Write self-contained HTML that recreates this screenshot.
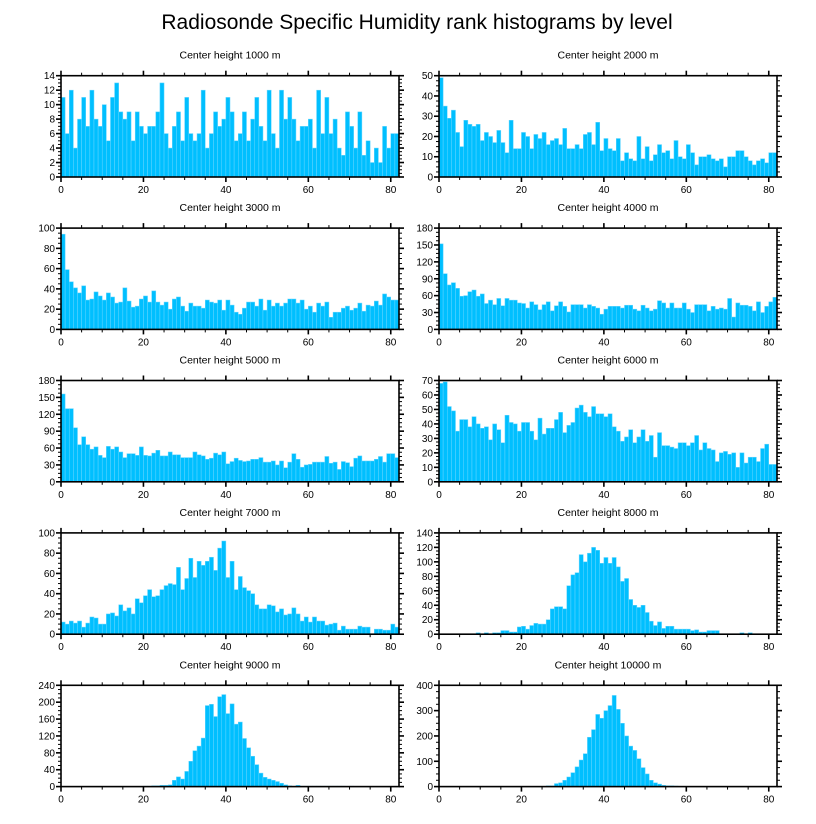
<!DOCTYPE html>
<html><head><meta charset="utf-8"><style>
html,body{margin:0;padding:0;background:#fff;}
svg{display:block;font-family:"Liberation Sans",sans-serif;}
</style></head><body>
<svg id="chart" width="816" height="824" viewBox="0 0 816 824">
<text x="417" y="29" text-anchor="middle" font-size="21">Radiosonde Specific Humidity rank histograms by level</text>
</svg>
<script>
const titles = ["Center height 1000 m","Center height 2000 m","Center height 3000 m","Center height 4000 m","Center height 5000 m","Center height 6000 m","Center height 7000 m","Center height 8000 m","Center height 9000 m","Center height 10000 m"];
const yMax = [14,50,100,180,180,70,100,140,240,400];
const yStep = [2,10,20,30,30,10,20,20,40,100];
const xTicks = [0,20,40,60,80];
const h1000 = [11,6,12,4,8,11,7,12,8,7,10,5,11,13,9,8,9,5,9,7,6,7,7,9,13,6,4,7,9,5,11,6,5,6,12,4,6,9,7,8,11,9,5,6,9,5,8,11,7,5,12,6,4,12,8,11,8,5,7,7,8,4,12,6,11,6,8,4,3,9,7,4,9,3,5,2,4,2,7,4,6,6];
const h2000 = [49,35,29,33,22,15,28,26,25,26,18,22,20,17,23,17,12,28,14,14,22,20,14,21,19,22,16,18,19,16,24,14,14,16,14,21,22,16,27,13,19,14,13,19,8,12,9,8,20,9,15,8,11,16,12,13,9,18,10,9,16,12,6,10,10,11,9,8,9,5,10,10,13,13,10,8,6,8,9,7,12,12];
const h3000 = [94,59,47,41,36,43,29,30,37,33,29,36,32,26,27,41,28,22,23,30,33,27,38,27,24,27,20,30,32,23,18,26,23,23,21,29,27,26,29,19,29,24,17,15,21,27,27,23,30,19,29,23,26,23,26,30,30,26,29,20,23,17,26,23,27,12,17,17,21,23,19,21,26,18,24,23,28,24,35,32,29,29];
const h4000 = [152,99,79,83,73,59,60,67,70,59,63,46,52,44,55,42,55,52,52,47,46,38,49,44,35,44,49,33,42,49,41,31,44,44,44,38,44,41,38,27,36,41,41,41,38,43,43,36,33,43,38,33,36,51,47,38,47,38,38,47,36,30,44,44,44,33,41,36,38,36,55,22,47,43,43,41,33,49,30,41,49,57];
const h5000 = [156,130,130,96,66,80,66,58,62,47,43,63,58,62,53,43,50,50,47,62,47,46,51,56,46,46,53,48,48,43,43,43,53,48,46,40,42,51,48,53,32,36,42,38,36,37,40,40,43,35,35,37,30,37,25,35,50,40,26,30,31,35,35,35,45,33,35,22,36,34,27,42,46,37,37,37,40,45,35,50,50,43];
const h6000 = [68,69,52,49,35,43,43,38,45,40,37,38,29,40,36,27,46,41,40,35,41,41,35,29,44,33,37,37,43,48,34,39,41,51,53,48,45,52,47,47,45,47,38,35,28,31,36,27,31,36,28,32,17,34,25,25,24,23,27,27,25,27,32,22,27,23,22,14,20,21,19,20,10,20,13,17,17,14,23,26,12,12];
const h7000 = [12,10,13,11,13,7,11,17,16,10,10,20,21,18,29,23,26,20,35,31,38,44,37,38,44,48,50,49,66,44,55,75,56,72,68,72,76,63,85,92,56,72,44,57,46,43,40,29,25,25,29,28,22,25,19,20,26,20,13,17,12,17,13,13,9,10,11,4,8,5,5,5,8,7,7,0,5,5,4,4,10,7];
const h8000 = [0,0,0,0,0,0,0,0,0,2,0,2,0,2,2,5,5,3,3,10,11,7,12,15,14,14,20,35,38,38,35,67,82,85,110,100,112,120,116,98,106,98,106,93,73,77,48,40,37,40,30,18,12,17,8,11,11,7,7,7,7,5,6,3,3,5,5,5,0,0,0,0,0,2,0,2,0,0,0,0,0,0];
const h9000 = [0,0,0,0,0,0,0,0,0,0,0,0,0,0,0,0,0,0,0,0,1,1,2,2,3,3,4,15,23,18,36,60,85,96,115,192,195,166,213,218,173,196,148,153,114,92,72,52,32,22,18,15,12,8,4,2,1,3,1,1,1,1,1,1,1,1,1,1,1,0,1,0,0,0,0,0,0,0,0,0,0,0];
const h10000 = [0,0,0,0,0,0,0,0,0,0,0,0,0,0,0,0,0,0,0,0,0,0,0,0,0,0,3,3,12,15,25,38,55,78,105,130,195,225,285,270,300,320,360,305,250,200,160,143,110,75,50,25,15,10,5,3,3,2,1,1,0,0,0,0,0,0,0,0,0,0,1,0,0,0,0,0,0,0,1,0,0,0];
const series = [h1000,h2000,h3000,h4000,h5000,h6000,h7000,h8000,h9000,h10000];

const NS = "http://www.w3.org/2000/svg";
const svg = document.getElementById("chart");
function mk(tag, attrs, parent){const e=document.createElementNS(NS,tag);for(const k in attrs)e.setAttribute(k,attrs[k]);(parent||svg).appendChild(e);return e;}
const W = 338, H = 101.3, XMAX = 82;
series.forEach((vals, p) => {
  const col = p % 2, row = Math.floor(p / 2);
  const L = col === 0 ? 61 : 439, T = 75.7 + row * 152.4;
  const g = mk("g", {});
  
  
  const xs = v => L + v / XMAX * W;
  const ys = v => T + H - v / yMax[p] * H;
  const t = mk("text", {x: L + W/2, y: T - 17, "text-anchor": "middle", "font-size": "10.5"}, g);
  t.textContent = titles[p];
  
  
  vals.forEach((v, i) => {
    if (i >= XMAX || v <= 0) return;
    const r = mk("rect", {x: xs(i), y: ys(v), width: xs(i+1) - xs(i), height: ys(0) - ys(v), fill: "#00bfff", stroke: "#66d6ff", "stroke-width": "0.5"}, g);
    
    
  });
  const fr = mk("rect", {x: L, y: T, width: W, height: H, fill: "none", stroke: "#000", "stroke-width": "1.6"}, g);
  
  
  // x ticks
  for (let v = 0; v <= XMAX; v += 5) {
    const major = v % 20 === 0, len = major ? 5 : 3, x = xs(v);
    mk("line", {x1: x, x2: x, y1: T + H, y2: T + H + len, stroke: "#000", "stroke-width": major ? 1.6 : 1}, g);
    mk("line", {x1: x, x2: x, y1: T, y2: T - len, stroke: "#000", "stroke-width": major ? 1.6 : 1}, g);
  }
  xTicks.forEach(v => {
    const lb = mk("text", {x: xs(v), y: T + H + 16, "text-anchor": "middle", "font-size": "10"}, g);
    lb.textContent = v;
    
    
  });
  // y ticks
  const minorStep = yStep[p] / 4;
  for (let k = 0; k * minorStep <= yMax[p] + 1e-9; k++) {
    const v = k * minorStep, major = k % 4 === 0, len = major ? 5 : 3, y = ys(v);
    mk("line", {x1: L, x2: L - len, y1: y, y2: y, stroke: "#000", "stroke-width": major ? 1.6 : 1}, g);
    mk("line", {x1: L + W, x2: L + W + len, y1: y, y2: y, stroke: "#000", "stroke-width": major ? 1.6 : 1}, g);
  }
  for (let v = 0; v <= yMax[p] + 1e-9; v += yStep[p]) {
    const lb = mk("text", {x: L - 6, y: ys(v) + 3.5, "text-anchor": "end", "font-size": "10"}, g);
    lb.textContent = v;
    
    
  }
});
</script>
</body></html>
